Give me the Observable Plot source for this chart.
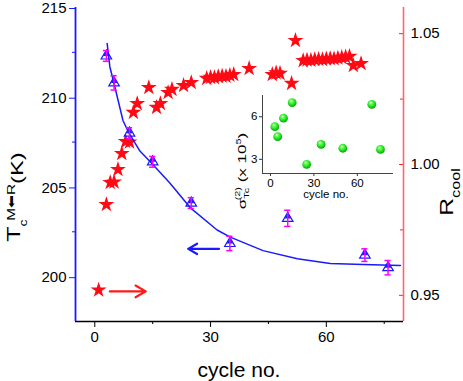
<!DOCTYPE html>
<html><head><meta charset="utf-8">
<script src="https://cdn.jsdelivr.net/npm/d3@7"></script>
<script src="https://cdn.jsdelivr.net/npm/@observablehq/plot@0.6"></script>
<style>
body{margin:0;background:#fff;}
#wrap{position:relative;width:463px;height:381px;font-family:"Liberation Sans",Arial,sans-serif;}
#wrap svg{position:absolute;overflow:visible;}
</style></head><body><div id="wrap"></div>
<script>
// ---- data ----
const cycles = [3, 5, 9, 15, 25, 35, 50, 70, 76];
const tcValues = [212.3, 210.8, 208.0, 206.4, 204.1, 201.85, 203.25, 201.2, 200.5];
const tcErrors = [0.3, 0.4, 0.3, 0.3, 0.3, 0.4, 0.45, 0.35, 0.4];
const sigmaValues = [5.3, 4.6, 5.9, 7.0, 2.65, 4.05, 3.78, 6.88, 3.7];
const fitCycles = [3.2, 3.9, 5.0, 7.3, 8.8, 11.7, 14.8, 19.5, 24.7, 31.7, 35.1, 43.6, 52.5, 61, 69.6, 79.2];
const fitValues = [213.0, 211.7, 210.75, 208.7, 208.03, 207.0, 206.3, 205.2, 203.85, 202.6, 202.2, 201.45, 201.0, 200.73, 200.67, 200.62];
const starCycles = [1, 3, 4, 5, 6, 7, 8, 9, 10, 11, 14, 16, 17, 19, 20, 23, 25,
  29, 30, 31, 32, 33, 34, 35, 36, 40, 46, 47, 48, 51, 52,
  54, 55, 56, 57, 58, 59, 60, 61, 62, 63, 64, 65, 66, 67, 69];
const rcoolValues = [0.952, 0.9847, 0.9931, 0.9933, 0.9981, 1.0042, 1.0088, 1.0086, 1.0199, 1.0233, 1.0294, 1.0218, 1.0233, 1.0275, 1.0287, 1.0302, 1.0313,
  1.0329, 1.0333, 1.0332, 1.0336, 1.0338, 1.0337, 1.0341, 1.0344, 1.0367, 1.0344, 1.0350, 1.0348, 1.0310, 1.0474,
  1.0397, 1.0399, 1.0398, 1.0401, 1.0402, 1.0401, 1.0404, 1.0405, 1.0404, 1.0407, 1.0409, 1.0411, 1.0413, 1.0378, 1.0386];
const blueArrowCycles = [32.2, 24.2];
const blueArrowT = 201.55;
const redArrowCycles = [3.9, 13.2];
const redArrowR = 0.9515;

const xTicks = [0, 30, 60];
const xMinorTicks = [15, 45, 75];
const leftTicks = [200, 205, 210, 215];
const leftMinorTicks = [202.5, 207.5, 212.5];
const rightTicks = [0.95, 1.00, 1.05];
const rightMinorTicks = [0.975, 1.025];
const insetXTicks = [0, 30, 60];
const insetYTicks = [3, 6];
const xDomain = [-5, 80];
const tDomain = [197.5, 215];
const rDomain = [0.94, 1.06];
const insetXDomain = [-5.5, 85];
const insetYDomain = [2, 7.5];
const xTitle = "cycle no.";
const insetXTitle = "cycle no.";

// ---- helpers ----
const toT = r => tDomain[0] + (r - rDomain[0]) / (rDomain[1] - rDomain[0]) * (tDomain[1] - tDomain[0]);
const fromT = t => rDomain[0] + (t - tDomain[0]) / (tDomain[1] - tDomain[0]) * (rDomain[1] - rDomain[0]);

const tc = cycles.map((x, i) => ({x, y: tcValues[i], e: tcErrors[i]}));
const fit = fitCycles.map((x, i) => ({x, y: fitValues[i]}));
const stars = starCycles.map((x, i) => ({x, y: toT(rcoolValues[i])}));
const sigma = cycles.map((x, i) => ({x, y: sigmaValues[i]}));
const arrows = [
  {x1: blueArrowCycles[0], x2: blueArrowCycles[1], y1: blueArrowT, y2: blueArrowT, c: "blue"},
  {x1: redArrowCycles[0], x2: redArrowCycles[1], y1: toT(redArrowR), y2: toT(redArrowR), c: "red"}
];

const FONT = "Liberation Sans, Arial, sans-serif";
const BLUE = "#1a1aff", RED = "#ff0a14", MAG = "#ff00ff", PINK = "#ff6470";

const main = Plot.plot({
  width: 463, height: 381,
  marginLeft: 75, marginRight: 60, marginTop: 7, marginBottom: 60,
  style: {fontFamily: FONT, background: "transparent"},
  x: {domain: xDomain},
  y: {domain: tDomain},
  marks: [
    Plot.axisX({ticks: xTicks, tickSize: 6, tickPadding: 4, fontSize: 15, label: null, stroke: "#000", fill: "#000"}),
    Plot.axisX({ticks: xMinorTicks, tickSize: 3, fill: "none", label: null, stroke: "#000"}),
    Plot.axisY({ticks: leftTicks, tickSize: 6, tickPadding: 3, fontSize: 15, stroke: BLUE, fill: "#000", label: null, tickFormat: "d", dy: 1}),
    Plot.axisY({ticks: leftMinorTicks, tickSize: 3, stroke: BLUE, fill: "none", label: null}),
    Plot.axisY({anchor: "right", ticks: rightTicks.map(toT), tickSize: 5, dx: -5, stroke: "#ff2030", fill: "none", label: null}),
    Plot.axisY({anchor: "right", ticks: rightMinorTicks.map(toT), tickSize: 4, dx: -4, stroke: "#ff2030", fill: "none", label: null}),
    Plot.axisY({anchor: "right", ticks: rightTicks.map(toT), tickSize: 0, tickPadding: 7, fontSize: 15, fill: "#000", label: null,
      tickFormat: t => fromT(t).toFixed(2)}),
    Plot.ruleY([tDomain[0]], {stroke: "#000", strokeWidth: 1.5}),
    Plot.ruleX([xDomain[0]], {stroke: BLUE, strokeWidth: 1.8}),
    Plot.ruleX([xDomain[1]], {stroke: PINK, strokeWidth: 1.6}),
    Plot.dot(stars, {x: "x", y: "y", symbol: "star", fill: RED, r: 5}),
    Plot.line(fit, {x: "x", y: "y", stroke: BLUE, strokeWidth: 1.5, curve: "linear"}),
    Plot.dot(tc, {x: "x", y: "y", symbol: "triangle", stroke: BLUE, fill: "none", strokeWidth: 1.2, r: 3.9}),
    Plot.dot(tc, {x: "x", y: "y", symbol: "triangle", fill: BLUE, r: 2.4, dy: -1.8}),
    Plot.ruleX(tc, {x: "x", y1: d => d.y - d.e, y2: d => d.y + d.e, stroke: MAG, strokeWidth: 1.5}),
    Plot.ruleY(tc, {y: d => d.y + d.e, x1: d => d.x - 0.8, x2: d => d.x + 0.8, stroke: MAG, strokeWidth: 1.5}),
    Plot.ruleY(tc, {y: d => d.y - d.e, x1: d => d.x - 0.8, x2: d => d.x + 0.8, stroke: MAG, strokeWidth: 1.5}),
    Plot.arrow(arrows, {x1: "x1", y1: "y1", x2: "x2", y2: "y2", stroke: d => d.c === "blue" ? BLUE : "#ff1a1a",
      strokeWidth: 2.2, headLength: 8, headAngle: 60})
  ]
});
main.style.left = "0px"; main.style.top = "0px";

// titles
const ms = d3.select(main);
ms.append("text").attr("x", 239).attr("y", 377).attr("text-anchor", "middle")
  .attr("font-size", 21).attr("font-family", FONT).attr("fill", "#000").text(xTitle);
ms.append("text").attr("transform", "translate(20,197) rotate(-90) scale(1.4,1)")
  .attr("font-family", FONT).attr("fill", "#000")
  .html('<tspan font-size="18">T</tspan><tspan font-size="10" dy="7">c</tspan>' +
        '<tspan font-size="11" dx="-1" dy="-12">M</tspan><tspan font-size="11" font-weight="bold" font-family="DejaVu Sans">\u2B05</tspan>' +
        '<tspan font-size="11">R</tspan><tspan font-size="17" dy="8">(K)</tspan>');
ms.append("text").attr("transform", "translate(453,192) rotate(-90) scale(1.3,1)")
  .attr("font-family", FONT).attr("fill", "#000")
  .html('<tspan font-size="19">R</tspan><tspan font-size="12.5" dy="7">cool</tspan>');

// ---- inset ----
const inset = Plot.plot({
  width: 170, height: 120,
  marginLeft: 30, marginRight: 9, marginTop: 10, marginBottom: 32,
  style: {fontFamily: FONT, background: "transparent"},
  x: {domain: insetXDomain},
  y: {domain: insetYDomain},
  marks: [
    Plot.axisX({ticks: insetXTicks, tickSize: 3, tickPadding: 2, fontSize: 11.5, label: null, stroke: "#333", fill: "#000"}),
    Plot.axisY({ticks: insetYTicks, tickSize: 3, tickPadding: 2, fontSize: 11.5, label: null, stroke: "#333", fill: "#000", tickFormat: "d"}),
    Plot.ruleY([insetYDomain[0]], {stroke: "#444", strokeWidth: 1}),
    Plot.ruleX([insetXDomain[0]], {stroke: "#444", strokeWidth: 1}),
    Plot.dot(sigma, {x: "x", y: "y", r: 4.4, fill: "url(#greenBall)"})
  ]
});
inset.style.left = "232px"; inset.style.top = "85px";
const is = d3.select(inset);
const grad = is.insert("defs", ":first-child").append("radialGradient").attr("id", "greenBall")
  .attr("cx", "45%").attr("cy", "40%").attr("r", "60%").attr("fx", "38%").attr("fy", "30%");
grad.append("stop").attr("offset", "0%").attr("stop-color", "#f0fff0");
grad.append("stop").attr("offset", "25%").attr("stop-color", "#6cff5c");
grad.append("stop").attr("offset", "70%").attr("stop-color", "#16dd16");
grad.append("stop").attr("offset", "100%").attr("stop-color", "#0a9a0a");
is.append("text").attr("x", 94).attr("y", 113).attr("text-anchor", "middle")
  .attr("font-size", 11.5).attr("font-family", FONT).attr("fill", "#000").text(insetXTitle);
is.append("text").attr("transform", "translate(14,86) rotate(-90) scale(1.55,1)")
  .attr("font-family", FONT).attr("fill", "#000")
  .html('<tspan font-size="11">\u03C3</tspan><tspan font-size="7" dy="3">Tc</tspan>' +
        '<tspan font-size="7" dx="-8" dy="-9">(2)</tspan><tspan font-size="11" dy="6"> (x 10</tspan>' +
        '<tspan font-size="7" dy="-5">5</tspan><tspan font-size="11" dy="5">)</tspan>');

const wrap = document.getElementById("wrap");
wrap.appendChild(main);
wrap.appendChild(inset);
</script></body></html>
